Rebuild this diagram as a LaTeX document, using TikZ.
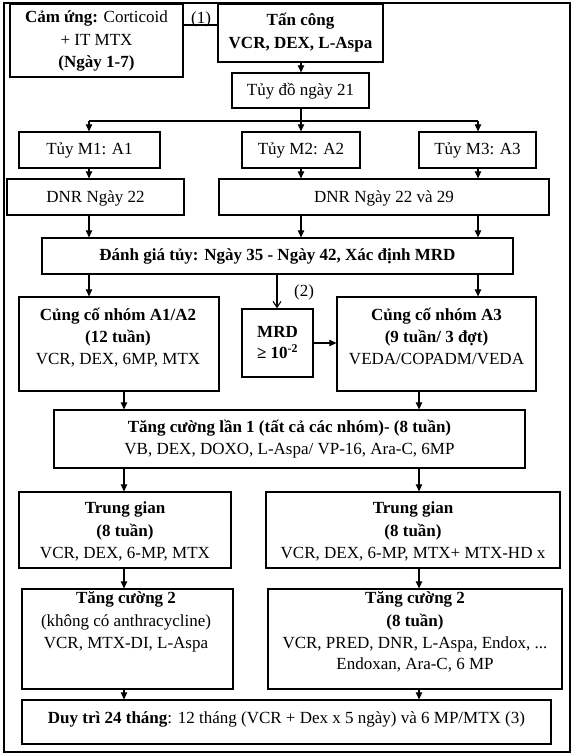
\documentclass[tikz,border=0pt]{standalone}
\usepackage{fontspec}
\setmainfont{Liberation Serif}
\usetikzlibrary{arrows.meta}
\newcommand\mybox[5]{\node[box, minimum width={#4-#2}, minimum height={#5-#3}] (#1) at ({(#2+#4)/2},{(#3+#5)/2}) {};}
\begin{document}
\begin{tikzpicture}[x=1pt,y=-1pt,
  box/.style={draw=black, line width=1.3pt, inner sep=0pt, fill=none},
  tx/.style={anchor=base, inner sep=0pt, font=\fontsize{17}{22}\selectfont},
  ln/.style={draw=black, line width=1.1pt},
  arr/.style={ln, -{Triangle[length=7pt,width=6.5pt]}},
  oarr/.style={ln, -{Straight Barb[length=6pt,width=8pt]}}]
\useasboundingbox (0,0) rectangle (576,754);
\fill[white] (0,0) rectangle (576,754);
% frame
\node[box, line width=1.4pt, minimum width=566, minimum height=749] (frame) at (287,377.5) {};
% boxes
\mybox{induct}{10}{4}{183}{77}
\mybox{attack}{218}{4}{383}{62}
\mybox{bm21}{232}{73}{369}{108}
\mybox{mA}{19}{132}{160}{168}
\mybox{mB}{242}{132}{360}{168}
\mybox{mC}{419}{132}{536}{168}
\mybox{dA}{7}{179}{184}{215}
\mybox{dB}{219}{179}{549}{215}
\mybox{ev}{42}{238}{513}{274}
\mybox{cA}{19}{297}{219}{391}
\mybox{mrd}{242}{309}{313}{377}
\mybox{cB}{337}{297}{536}{391}
\mybox{tcA}{54}{410}{525}{468}
\mybox{tgA}{19}{492}{231}{568}
\mybox{tgB}{266}{492}{560}{568}
\mybox{tkA}{22}{589}{233}{689}
\mybox{tkB}{268}{589}{562}{689}
\mybox{dt}{22}{700}{551}{744}
% texts
\node[tx] (t1) at (96.5,22.5) {\textbf{Cảm ứng:} Corticoid};
\node[tx] (t2) at (96.5,45.5) {+ IT MTX};
\node[tx] (t3) at (96.5,67.5) {\textbf{(Ngày 1-7)}};
\node[tx] (t4) at (300.5,25.5) {\textbf{Tấn công}};
\node[tx] (t5) at (300.5,48.5) {\textbf{VCR, DEX, L-Aspa}};
\node[tx] (t6) at (201,23.5) {(1)};
\node[tx] (t7) at (300.5,95.5) {Tủy đồ ngày 21};
\node[tx] (t8) at (89.5,154.5) {Tủy M1: A1};
\node[tx] (t9) at (301,154.5) {Tủy M2: A2};
\node[tx] (t10) at (477.5,154.5) {Tủy M3: A3};
\node[tx] (t11) at (95.5,202.5) {DNR Ngày 22};
\node[tx] (t12) at (384,202.5) {DNR Ngày 22 và 29};
\node[tx] (t13) at (277.5,260.5) {\textbf{Đánh giá tủy: Ngày 35 - Ngày 42, Xác định MRD}};
\node[tx] (t14) at (118,320.5) {\textbf{Củng cố nhóm A1/A2}};
\node[tx] (t15) at (118,342.5) {\textbf{(12 tuần)}};
\node[tx] (t16) at (118,364.5) {VCR, DEX, 6MP, MTX};
\node[tx] (t17) at (277.5,337.5) {\textbf{MRD}};
\node[tx] (t18) at (277.5,358.5) {\textbf{≥ 10\textsuperscript{-2}}};
\node[tx] (t19) at (304,296.5) {(2)};
\node[tx] (t20) at (436.5,320.5) {\textbf{Củng cố nhóm A3}};
\node[tx] (t21) at (436.5,342.5) {\textbf{(9 tuần/ 3 đợt)}};
\node[tx] (t22) at (436.5,364.5) {VEDA/COPADM/VEDA};
\node[tx] (t23) at (289.5,432.5) {\textbf{Tăng cường lần 1 (tất cả các nhóm)- (8 tuần)}};
\node[tx] (t24) at (289.5,454.5) {VB, DEX, DOXO, L-Aspa/ VP-16, Ara-C, 6MP};
\node[tx] (t25) at (125,513.5) {\textbf{Trung gian}};
\node[tx] (t26) at (125,536) {\textbf{(8 tuần)}};
\node[tx] (t27) at (125,558.5) {VCR, DEX, 6-MP, MTX};
\node[tx] (t28) at (413,513.5) {\textbf{Trung gian}};
\node[tx] (t29) at (413,536) {\textbf{(8 tuần)}};
\node[tx] (t30) at (413,558.5) {VCR, DEX, 6-MP, MTX+ MTX-HD x};
\node[tx] (t31) at (126,603.5) {\textbf{Tăng cường 2}};
\node[tx] (t32) at (126,626.5) {(không có anthracycline)};
\node[tx] (t33) at (126,648.5) {VCR, MTX-DI, L-Aspa};
\node[tx] (t34) at (415,603.5) {\textbf{Tăng cường 2}};
\node[tx] (t35) at (415,626.5) {\textbf{(8 tuần)}};
\node[tx] (t36) at (415,648.5) {VCR, PRED, DNR, L-Aspa, Endox, ...};
\node[tx] (t37) at (415,669.5) {Endoxan, Ara-C, 6 MP};
\node[tx] (t38) at (286.5,723.5) {\textbf{Duy trì 24 tháng}: 12 tháng (VCR + Dex x 5 ngày) và 6 MP/MTX (3)};
% helper coordinates
\coordinate (xa) at (89,0);
\coordinate (xb) at (301,0);
\coordinate (xc) at (478,0);
\coordinate (xm) at (277,0);
\coordinate (xl) at (124,0);
\coordinate (xr) at (419,0);
\coordinate (ys) at (0,121);
\coordinate (y1) at (0,25);
% connectors
\draw[ln] (induct.east |- y1) -- (attack.west |- y1);
\draw[arr] (attack.south -| xb) -- (bm21.north -| xb);
\draw[ln] (ys -| xa) -- (ys -| xc);
\draw[arr] (bm21.south -| xb) -- (mB.north -| xb);
\draw[arr] (ys -| xa) -- (mA.north -| xa);
\draw[arr] (ys -| xc) -- (mC.north -| xc);
\draw[arr] (mA.south -| xa) -- (dA.north -| xa);
\draw[arr] (mB.south -| xb) -- (dB.north -| xb);
\draw[arr] (mC.south -| xc) -- (dB.north -| xc);
\draw[arr] (dA.south -| xa) -- (ev.north -| xa);
\draw[arr] (dB.south -| xb) -- (ev.north -| xb);
\draw[arr] (dB.south -| xc) -- (ev.north -| xc);
\draw[arr] (ev.south -| xa) -- (cA.north -| xa);
\draw[oarr] (ev.south -| xm) -- (mrd.north -| xm);
\draw[arr] (ev.south -| xc) -- (cB.north -| xc);
\draw[arr] (mrd.east) -- (mrd.east -| cB.west);
\draw[arr] (cA.south -| xl) -- (tcA.north -| xl);
\draw[arr] (cB.south -| xr) -- (tcA.north -| xr);
\draw[arr] (tcA.south -| xl) -- (tgA.north -| xl);
\draw[arr] (tcA.south -| xr) -- (tgB.north -| xr);
\draw[arr] (tgA.south -| xl) -- (tkA.north -| xl);
\draw[arr] (tgB.south -| xr) -- (tkB.north -| xr);
\draw[arr] (tkA.south -| xl) -- (dt.north -| xl);
\draw[arr] (tkB.south -| xr) -- (dt.north -| xr);
\end{tikzpicture}
\end{document}
